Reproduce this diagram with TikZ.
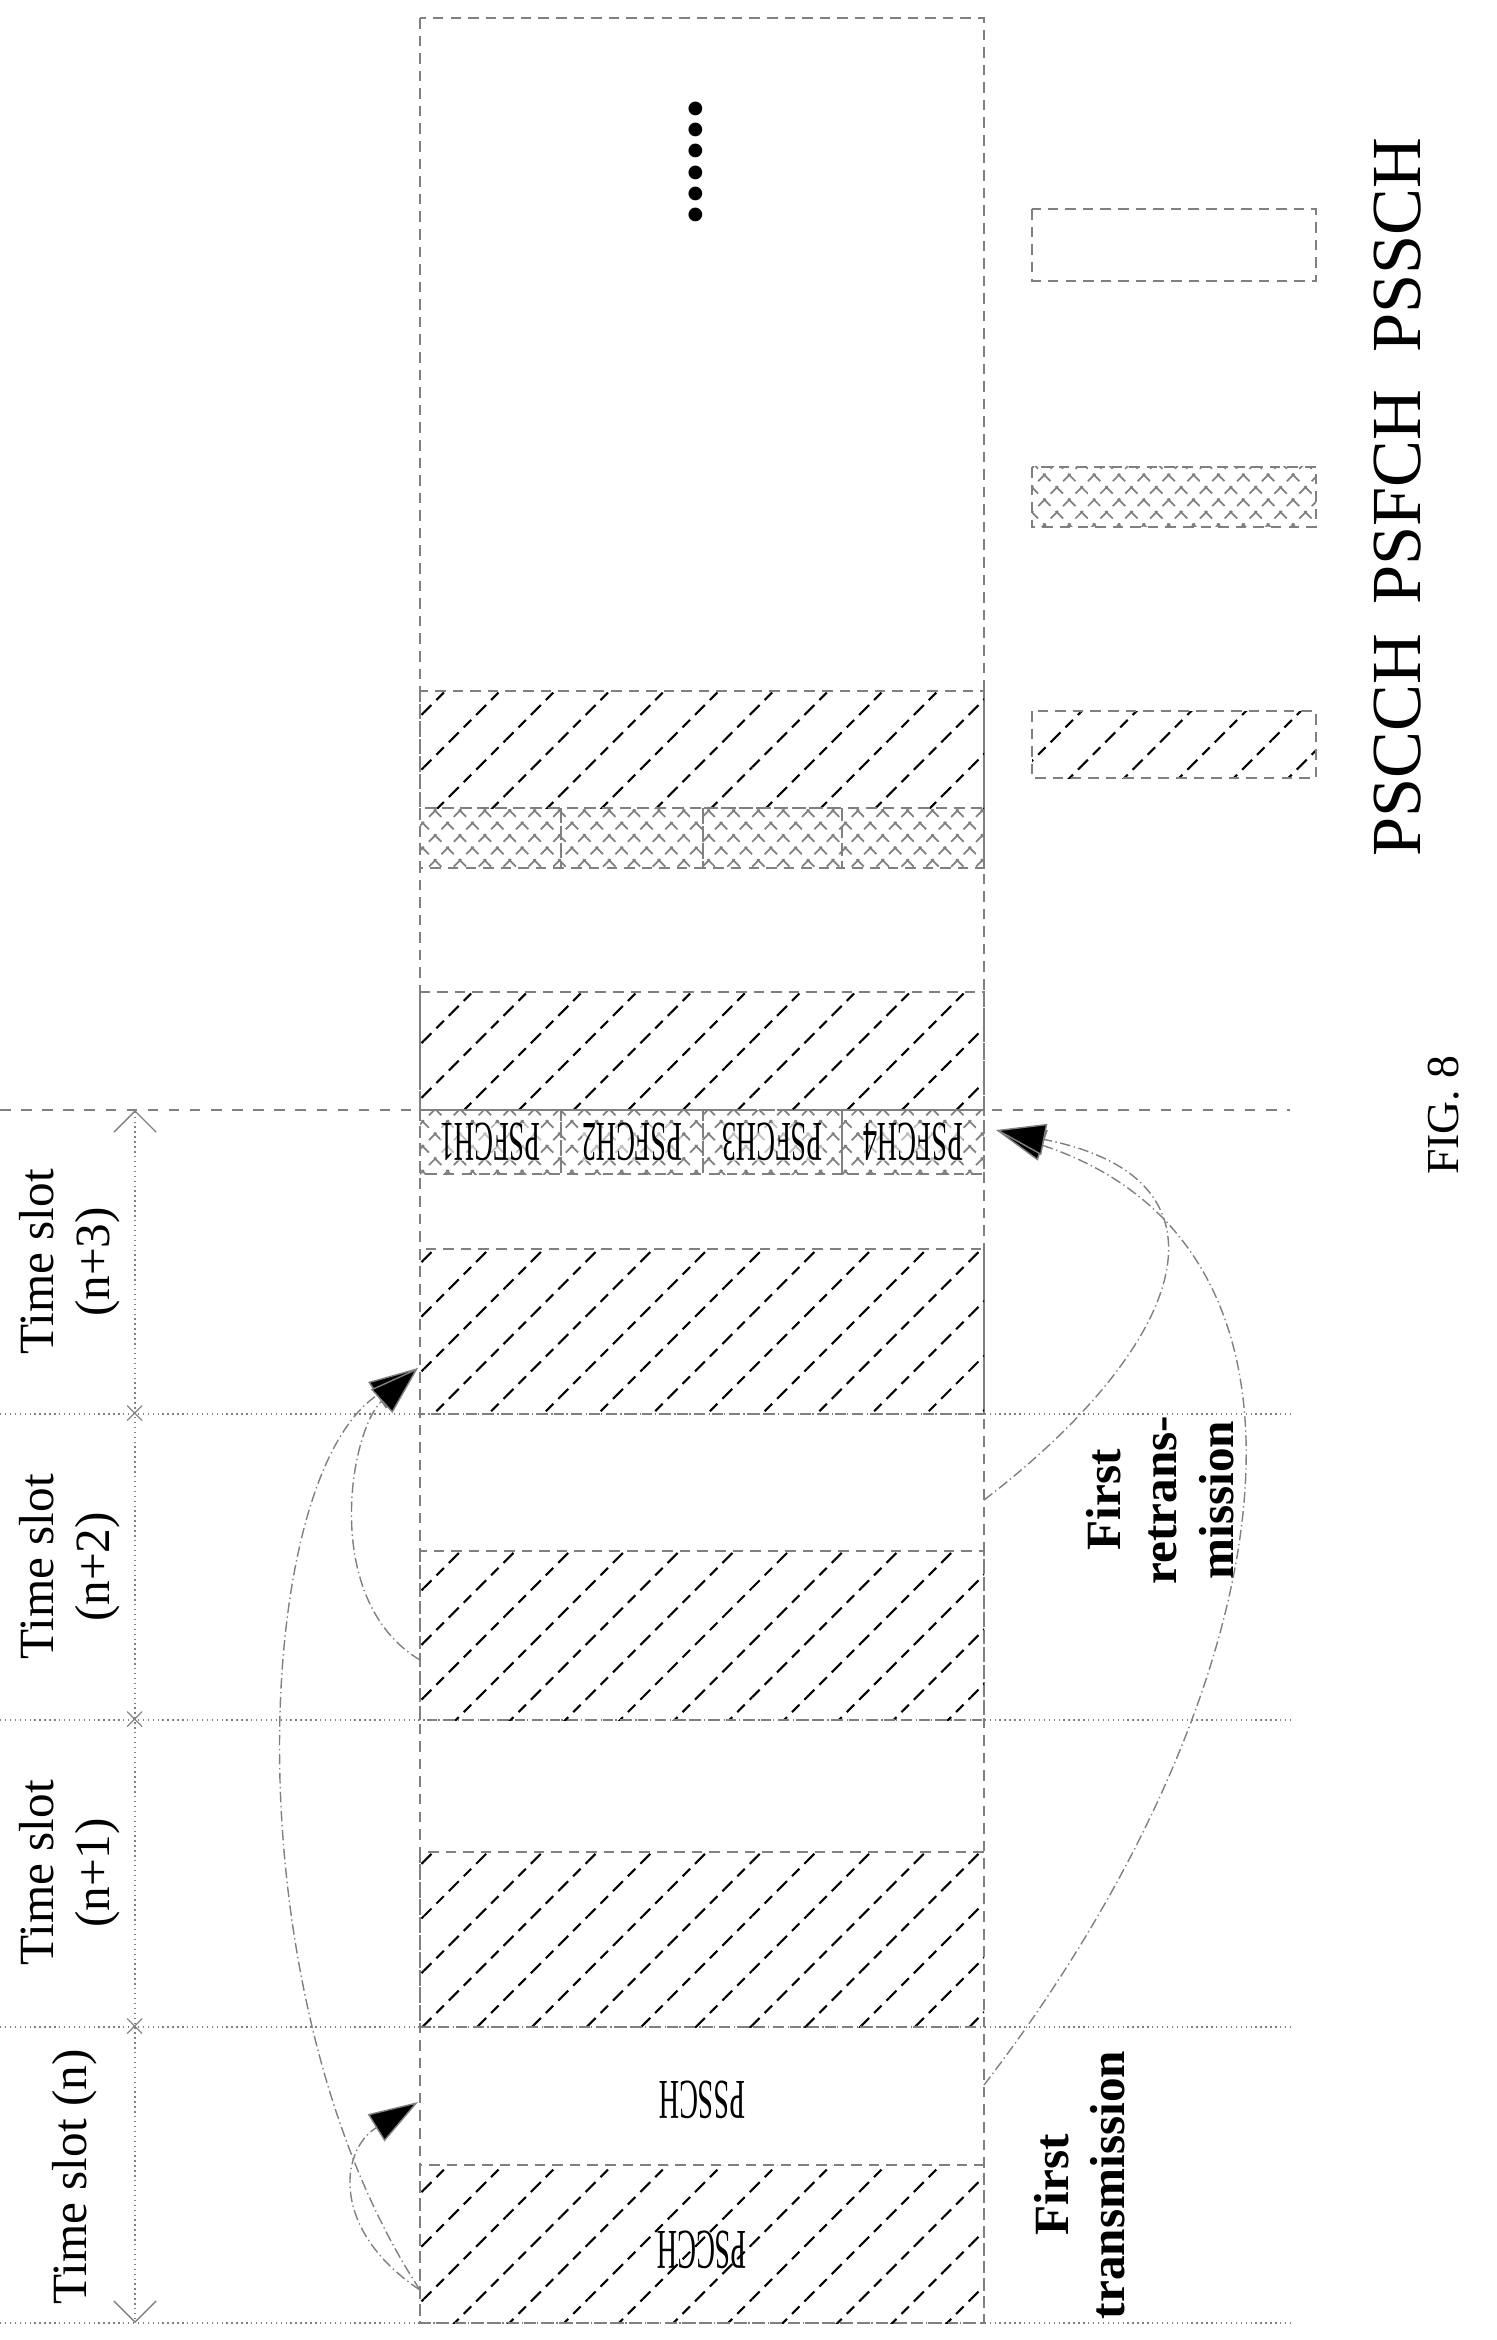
\documentclass[tikz,border=0pt]{standalone}
\usepackage{fontspec}
\setmainfont{Liberation Serif}
\usetikzlibrary{patterns.meta,arrows.meta}

\tikzset{
  frame/.style={draw=gray,densely dashed,thin},
  sci/.style={frame,pattern={Lines[angle=45,distance=11pt,line width=0.6pt]}},
  fch/.style={frame,pattern={Hatch[angle=45,distance=5pt,line width=0.5pt]},pattern color=gray},
  bound/.style={draw=gray,densely dotted,thin},
  lbl/.style={font=\fontsize{14}{16}\selectfont,align=center,rotate=90},
  small/.style={font=\fontsize{16}{16}\selectfont,rotate=180,xscale=0.5},
  link/.style={draw=gray,densely dashdotted,thin,-{Triangle[length=14pt,width=9pt,fill=black]}}
}

\begin{document}
\begin{tikzpicture}[x=0.01cm,y=-0.01cm]
\useasboundingbox (0,0) rectangle (1496,2340);

% main resource box
\draw[frame] (420,18) rectangle (984,2323);

% slot boundaries
\foreach \y in {2323,2027,1720,1414}
  \draw[bound] (0,\y) -- (1290,\y);
\draw[draw=gray,dashed,thin] (0,1110) -- (1290,1110);

% control channels
\draw[sci] (420,2165) rectangle (984,2323);
\draw[sci] (420,1852) rectangle (984,2027);
\draw[sci] (420,1551) rectangle (984,1720);
\draw[sci] (420,1249) rectangle (984,1414);
\draw[sci] (420,992) rectangle (984,1110);
\draw[sci] (420,691) rectangle (984,808);

% feedback channels
\foreach \a/\b [count=\i] in {420/561,561/703,703/842,842/984}{
  \draw[fch] (\a,1110) rectangle (\b,1174);
  \node[small,fill=white,fill opacity=0.5,text opacity=1,inner sep=0pt] (fch\i) at ({(\a+\b)/2},1142) {PSFCH\i};
  \draw[fch] (\a,808) rectangle (\b,868);
}

\node[small] (pscch) at (702,2250) {PSCCH};
\node[small] (pssch) at (702,2100) {PSSCH};
\node[font=\fontsize{24}{24}\selectfont\bfseries,rotate=90] (dots) at (696,162) {......};

% time axis
\draw[bound,{Straight Barb[length=6pt]}-{Straight Barb[length=6pt]}] (135,1110) -- (135,2323);
\foreach \y in {1414,1720,2027}
  \node[font=\small,text=gray,inner sep=0pt] at (135,\y) {$\times$};

\node[lbl] (tn) at (75,2177) {Time slot (n)};
\node[lbl] (tn1) at (70,1873) {Time slot\\(n+1)};
\node[lbl] (tn2) at (70,1567) {Time slot\\(n+2)};
\node[lbl] (tn3) at (70,1262) {Time slot\\(n+3)};

\node[lbl,font=\fontsize{14}{16}\selectfont\bfseries] (first) at (1080,2185) {First\\transmission};
\node[lbl,font=\fontsize{14}{16}\selectfont\bfseries] (retx) at (1160,1500) {First\\retrans-\\mission};

% reservation links
\coordinate (s0) at (420,2290);
\coordinate (d0) at (418,2102);
\coordinate (s2) at (420,1660);
\coordinate (d2) at (418,1368);
\coordinate (r0) at (984,2085);
\coordinate (r2) at (984,1500);
\coordinate (fb) at (996,1130);
\draw[link] (s0) .. controls (330,2230) and (340,2150) .. (d0);
\draw[link] (s0) .. controls (230,2000) and (250,1480) .. (d2);
\draw[link] (s2) .. controls (320,1600) and (350,1430) .. (d2);
\draw[link] (r0) .. controls (1280,1700) and (1360,1250) .. (fb);
\draw[link] (r2) .. controls (1180,1350) and (1250,1180) .. (fb);

% legend
\draw[sci] (1032,711) rectangle (1316,778);
\draw[fch] (1032,467) rectangle (1316,527);
\draw[frame] (1032,209) rectangle (1316,281);
\node[lbl,font=\fontsize{20}{20}\selectfont] (k1) at (1398,745) {PSCCH};
\node[lbl,font=\fontsize{20}{20}\selectfont] (k2) at (1398,497) {PSFCH};
\node[lbl,font=\fontsize{20}{20}\selectfont] (k3) at (1398,245) {PSSCH};

\node[lbl,font=\fontsize{13}{13}\selectfont] (fig) at (1444,1115) {FIG. 8};
\end{tikzpicture}
\end{document}
